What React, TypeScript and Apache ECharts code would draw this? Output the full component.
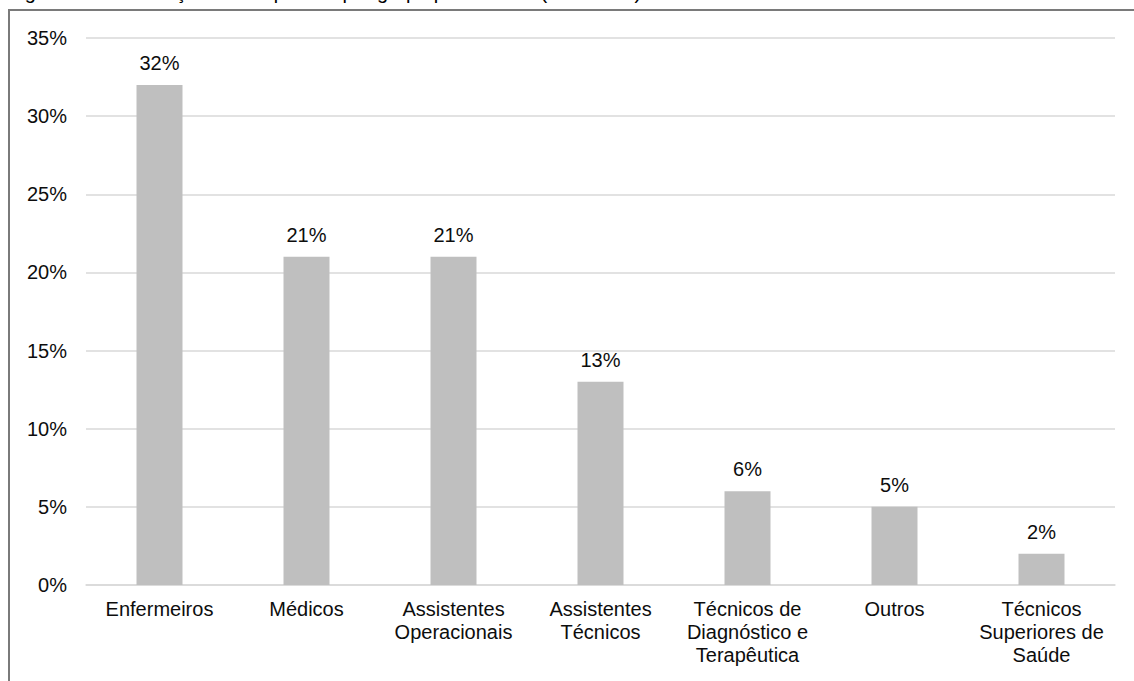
import React, { useEffect, useRef } from "react";
import * as echarts from "echarts";

const categories = [
  "Enfermeiros",
  "Médicos",
  "Assistentes\nOperacionais",
  "Assistentes\nTécnicos",
  "Técnicos de\nDiagnóstico e\nTerapêutica",
  "Outros",
  "Técnicos\nSuperiores de\nSaúde",
];
const values = [32, 21, 21, 13, 6, 5, 2];
const yTicks = { min: 0, max: 35, interval: 5 };
const titleText = "Figura 5 – Distribuição dos inquiridos por grupo profissional (N = 1 134)";

export default function App() {
  const ref = useRef<HTMLDivElement>(null);
  useEffect(() => {
    document.body.style.margin = "0";
    const chart = echarts.init(ref.current!, null, { renderer: "svg" });
    const font = "Liberation Sans, Arial, sans-serif";
    chart.setOption({
      animation: false,
      backgroundColor: "#ffffff",
      textStyle: { fontFamily: font },
      grid: { left: 86, right: 19, top: 38, bottom: 96, containLabel: false },
      graphic: [
        {
          type: "rect",
          shape: { x: 9, y: 10, width: 1200, height: 800 },
          style: { fill: "none", stroke: "#7a7a7a", lineWidth: 2 },
          silent: true,
        },
        {
          type: "text",
          x: 8,
          y: -18,
          style: {
            text: titleText,
            font: `20px ${font}`,
            fill: "#000",
            textVerticalAlign: "top",
          },
          silent: true,
        },
      ],
      xAxis: {
        type: "category",
        data: categories,
        axisLine: { show: true, lineStyle: { color: "#d9d9d9", width: 1.5 } },
        axisTick: { show: false },
        axisLabel: {
          color: "#0d0d0d",
          fontSize: 20,
          lineHeight: 23,
          margin: 12,
          interval: 0,
          fontFamily: font,
        },
      },
      yAxis: {
        type: "value",
        min: yTicks.min,
        max: yTicks.max,
        interval: yTicks.interval,
        axisLine: { show: false },
        axisTick: { show: false },
        splitLine: { lineStyle: { color: "#d9d9d9", width: 1.5 } },
        axisLabel: {
          color: "#0d0d0d",
          fontSize: 20,
          margin: 19,
          formatter: "{value}%",
          fontFamily: font,
        },
      },
      series: [
        {
          type: "bar",
          data: values,
          barWidth: 46,
          itemStyle: { color: "#bfbfbf" },
          label: {
            show: true,
            position: "top",
            distance: 12,
            color: "#0d0d0d",
            fontSize: 20,
            formatter: "{c}%",
            fontFamily: font,
          },
        },
      ],
    });
    return () => chart.dispose();
  }, []);
  return (
    <div
      ref={ref}
      style={{ position: "absolute", left: 0, top: 0, width: 1134, height: 681 }}
    />
  );
}
